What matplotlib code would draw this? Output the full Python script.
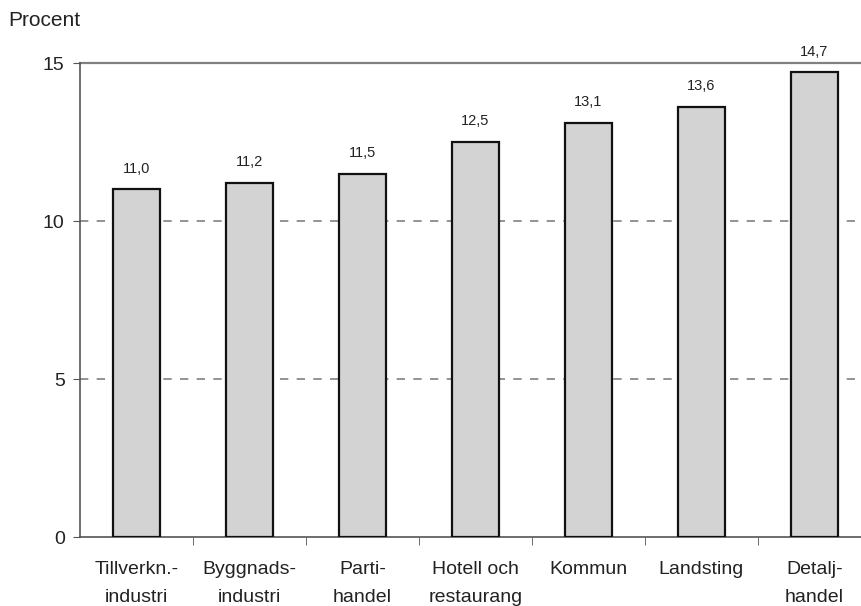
import matplotlib.pyplot as plt
import numpy as np

plt.rcParams['font.family'] = ['Liberation Sans', 'DejaVu Sans']

categories = ['Tillverkn.-\nindustri', 'Byggnads-\nindustri', 'Parti-\nhandel',
              'Hotell och\nrestaurang', 'Kommun', 'Landsting', 'Detalj-\nhandel']
values = [11.0, 11.2, 11.5, 12.5, 13.1, 13.6, 14.7]
value_labels = ['11,0', '11,2', '11,5', '12,5', '13,1', '13,6', '14,7']

fig = plt.figure(figsize=(8.61, 6.06), dpi=100)
# axes runs a bit past the right edge, as in the original
ax = fig.add_axes([80 / 861, 69 / 606, 791 / 861, 474 / 606])

x = np.arange(len(categories))
ax.bar(x, values, width=0.41, color='#d3d3d3', edgecolor='#111111', linewidth=1.6, zorder=3)

for xi, v, lab in zip(x, values, value_labels):
    ax.annotate(lab, (xi, v), xytext=(0, 10), textcoords='offset points',
                ha='center', va='bottom', fontsize=10.5, color='#222222')

ax.set_xlim(-0.5, len(categories) - 0.5)
ax.set_ylim(0, 15)
ax.set_yticks([0, 5, 10, 15])
ax.set_yticklabels(['0', '5', '10', '15'], fontsize=14, color='#222222')
ax.tick_params(axis='y', direction='out', length=5, color='#555555', pad=6)

ax.set_xticks(x)
ax.set_xticklabels(categories, fontsize=14, color='#222222', linespacing=1.85)
ax.tick_params(axis='x', which='major', length=0, pad=17)
ax.set_xticks(np.arange(0.5, len(categories) - 0.5), minor=True)
ax.tick_params(axis='x', which='minor', direction='out', length=6, color='#555555')

for yv in [5, 10]:
    ax.axhline(yv, color='#808080', linestyle=(0, (5, 5)), linewidth=1.2, zorder=1)
ax.axhline(15, color='#808080', linewidth=1.6, zorder=1, clip_on=False)

for s in ['top', 'right']:
    ax.spines[s].set_visible(False)
ax.spines['left'].set_color('#555555')
ax.spines['bottom'].set_color('#555555')
ax.spines['left'].set_linewidth(1.2)
ax.spines['bottom'].set_linewidth(1.2)

fig.text(8 / 861, 1 - 20 / 606, 'Procent', fontsize=15, color='#222222', va='center', ha='left')

fig.savefig('out.png', dpi=100)
